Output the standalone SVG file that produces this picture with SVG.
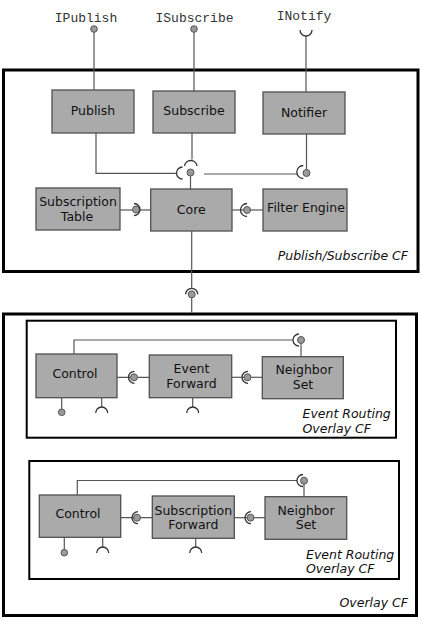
<svg xmlns="http://www.w3.org/2000/svg" width="422" height="622" viewBox="0 0 422 622">
<style>
.frame{fill:none;stroke:#000;stroke-width:3}
.inner{fill:none;stroke:#000;stroke-width:2}
.box{fill:#aaaaaa;stroke:#505050;stroke-width:1.3}
.lbl{font-family:"DejaVu Sans",sans-serif;font-size:12.5px;fill:#111;text-anchor:middle}
.cf{font-family:"DejaVu Sans",sans-serif;font-size:12.5px;font-style:italic;fill:#111}
.mono{font-family:"Liberation Mono","Courier New",monospace;font-size:13px;fill:#333;text-anchor:middle}
.ln{fill:none;stroke:#555;stroke-width:1.2}
.sock{fill:none;stroke:#333;stroke-width:1.3}
.ball{fill:#999;stroke:#555;stroke-width:1}
</style>
<rect width="422" height="622" fill="#fff"/>
<g id="frames">
<rect class="frame" x="3.5" y="70" width="414.5" height="201.5"/>
<text class="cf" x="408" y="260" text-anchor="end">Publish/Subscribe CF</text>
<rect class="frame" x="3.5" y="314" width="413" height="301.5"/>
<text class="cf" x="408" y="606.5" text-anchor="end">Overlay CF</text>
<rect class="inner" x="26.7" y="320.7" width="369.3" height="117"/>
<text class="cf" x="302.5" y="417.5">Event Routing</text>
<text class="cf" x="302.5" y="432.5">Overlay CF</text>
<rect class="inner" x="29.3" y="461" width="369.7" height="118"/>
<text class="cf" x="306" y="558.5">Event Routing</text>
<text class="cf" x="306" y="572.5">Overlay CF</text>
</g>
<g id="connectors">
<!-- external interfaces -->
<text class="mono" x="86" y="21.5">IPublish</text>
<text class="mono" x="194.5" y="21.5">ISubscribe</text>
<text class="mono" x="304" y="19.5">INotify</text>
<line class="ln" x1="94" y1="29" x2="94" y2="90"/>
<circle class="ball" cx="94" cy="29" r="3.3"/>
<line class="ln" x1="194" y1="29" x2="194" y2="91"/>
<circle class="ball" cx="194" cy="29" r="3.3"/>
<line class="ln" x1="306" y1="36" x2="306" y2="92"/>
<path class="sock" d="M300,30 A6,6 0 0 0 312,30"/>
<!-- top cluster -->
<polyline class="ln" points="96,133 96,173.3 176.5,173.3"/>
<path class="sock" d="M182.5,167 A6,6 0 0 0 182.5,179"/>
<line class="ln" x1="192" y1="133" x2="192" y2="159.5"/>
<path class="sock" d="M184.5,166 A6.3,6.3 0 0 1 197,166"/>
<line class="ln" x1="190.5" y1="172.5" x2="190.5" y2="189"/>
<circle class="ball" cx="190.5" cy="172.5" r="3.5"/>
<line class="ln" x1="204" y1="174" x2="297" y2="174"/>
<path class="sock" d="M303.3,165.5 A6.5,6.5 0 0 0 303.3,178.5"/>
<line class="ln" x1="306.5" y1="134" x2="306.5" y2="173"/>
<circle class="ball" cx="306.5" cy="173" r="3.5"/>
<!-- SubTable - Core -->
<line class="ln" x1="120" y1="210" x2="151" y2="210"/>
<circle class="ball" cx="136" cy="209.5" r="3.5"/>
<path class="sock" d="M134,203.5 A6,6 0 0 1 134,215.5"/>
<!-- Core - Filter -->
<line class="ln" x1="232" y1="210" x2="263" y2="210"/>
<circle class="ball" cx="247" cy="210" r="3.5"/>
<path class="sock" d="M247,203.5 A6.5,6.5 0 0 0 247,216.5"/>
<!-- Core down -->
<line class="ln" x1="191.7" y1="231" x2="191.7" y2="288"/>
<path class="sock" d="M185.7,294.3 A6,6 0 0 1 197.7,294.3"/>
<line class="ln" x1="191.7" y1="294" x2="191.7" y2="313"/>
<circle class="ball" cx="191.7" cy="294.3" r="3.5"/>
<!-- overlay 1 -->
<polyline class="ln" points="74,354 74,340 293,340"/>
<path class="sock" d="M299,334 A6,6 0 0 0 299,346"/>
<line class="ln" x1="301" y1="340" x2="301" y2="356.7"/>
<circle class="ball" cx="301" cy="340" r="3.5"/>
<line class="ln" x1="117" y1="377.3" x2="149.3" y2="377.3"/>
<circle class="ball" cx="134" cy="377.3" r="3.5"/>
<path class="sock" d="M134.5,371.3 A6,6 0 0 0 134.5,383.3"/>
<line class="ln" x1="231.7" y1="377.3" x2="262.3" y2="377.3"/>
<circle class="ball" cx="247.5" cy="377.3" r="3.5"/>
<path class="sock" d="M248,371.3 A6,6 0 0 0 248,383.3"/>
<line class="ln" x1="61.7" y1="397.7" x2="61.7" y2="412"/>
<circle class="ball" cx="61.7" cy="412.3" r="3.3"/>
<line class="ln" x1="101.7" y1="397.7" x2="101.7" y2="407"/>
<path class="sock" d="M95.7,413 A6,6 0 0 1 107.7,413"/>
<line class="ln" x1="192.7" y1="397.7" x2="192.7" y2="407"/>
<path class="sock" d="M186.7,413 A6,6 0 0 1 198.7,413"/>
<!-- overlay 2 -->
<polyline class="ln" points="77.3,495 77.3,480.5 297,480.5"/>
<path class="sock" d="M303,474.5 A6,6 0 0 0 303,486.5"/>
<line class="ln" x1="304" y1="480.7" x2="304" y2="496.7"/>
<circle class="ball" cx="304" cy="480.7" r="3.5"/>
<line class="ln" x1="120.7" y1="517.7" x2="152.3" y2="517.7"/>
<circle class="ball" cx="137" cy="517.7" r="3.5"/>
<path class="sock" d="M138,511.7 A6,6 0 0 0 138,523.7"/>
<line class="ln" x1="234.3" y1="517.7" x2="265" y2="517.7"/>
<circle class="ball" cx="250.5" cy="517.7" r="3.5"/>
<path class="sock" d="M251,511.7 A6,6 0 0 0 251,523.7"/>
<line class="ln" x1="64.3" y1="537.3" x2="64.3" y2="552"/>
<circle class="ball" cx="64.3" cy="552.7" r="3.3"/>
<line class="ln" x1="102.7" y1="537.3" x2="102.7" y2="547"/>
<path class="sock" d="M96.7,553 A6,6 0 0 1 108.7,553"/>
<line class="ln" x1="195.7" y1="538.3" x2="195.7" y2="547"/>
<path class="sock" d="M189.7,553 A6,6 0 0 1 201.7,553"/>
</g>
<g id="publish"><rect class="box" x="52" y="90" width="82" height="43"/><text class="lbl" x="93" y="114.5">Publish</text></g>
<g id="subscribe"><rect class="box" x="153" y="91" width="82" height="42"/><text class="lbl" x="194" y="115">Subscribe</text></g>
<g id="notifier"><rect class="box" x="263" y="92" width="82" height="42"/><text class="lbl" x="304" y="116.5">Notifier</text></g>
<g id="subscription-table"><rect class="box" x="36" y="188" width="84" height="42"/><text class="lbl" x="78" y="205.5">Subscription</text><text class="lbl" x="77" y="220.5">Table</text></g>
<g id="core"><rect class="box" x="150.7" y="189" width="81.3" height="42"/><text class="lbl" x="191.3" y="213.5">Core</text></g>
<g id="filter-engine"><rect class="box" x="263" y="189" width="84" height="42"/><text class="lbl" x="306" y="211.5">Filter Engine</text></g>
<g id="control-1"><rect class="box" x="36" y="354" width="81" height="43.7"/><text class="lbl" x="75" y="378">Control</text></g>
<g id="event-forward"><rect class="box" x="149.3" y="355" width="82.4" height="42.7"/><text class="lbl" x="191.5" y="373">Event</text><text class="lbl" x="191.5" y="387.5">Forward</text></g>
<g id="neighbor-set-1"><rect class="box" x="262.3" y="356.7" width="81" height="42"/><text class="lbl" x="304" y="374">Neighbor</text><text class="lbl" x="303" y="388.5">Set</text></g>
<g id="control-2"><rect class="box" x="39.3" y="495" width="81.4" height="42.3"/><text class="lbl" x="78" y="518">Control</text></g>
<g id="subscription-forward"><rect class="box" x="152.3" y="496" width="82" height="42.3"/><text class="lbl" x="193.3" y="514.5">Subscription</text><text class="lbl" x="193.3" y="528.5">Forward</text></g>
<g id="neighbor-set-2"><rect class="box" x="265" y="496.7" width="81.7" height="42.6"/><text class="lbl" x="306" y="515">Neighbor</text><text class="lbl" x="306" y="528.5">Set</text></g>
</svg>
